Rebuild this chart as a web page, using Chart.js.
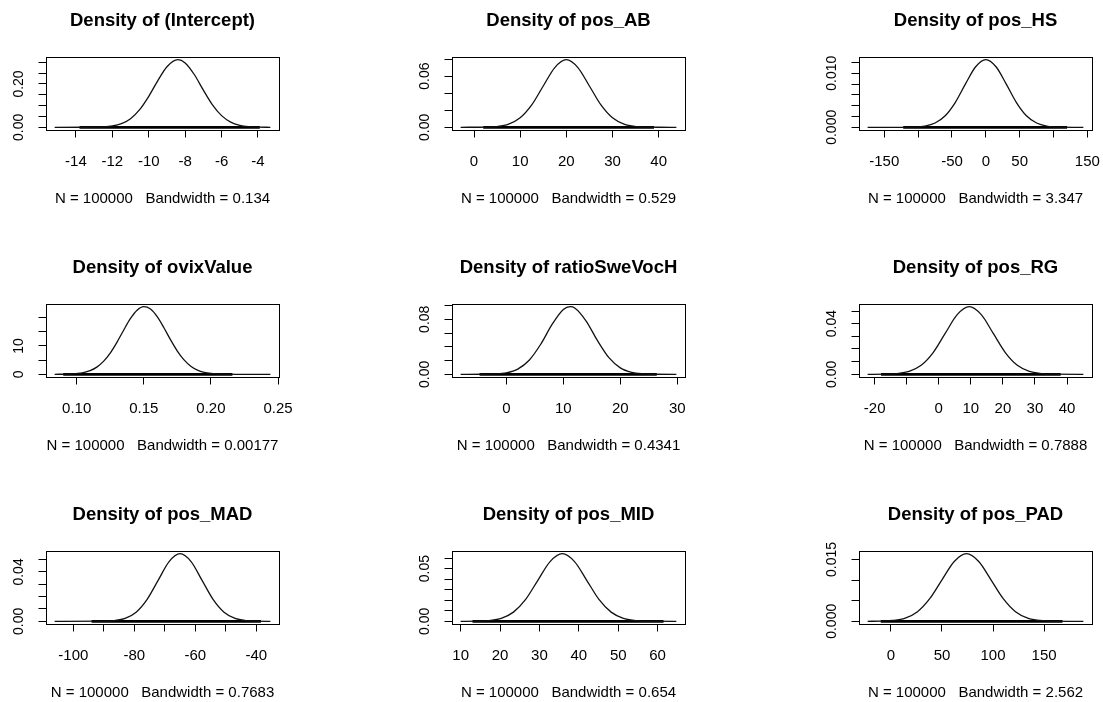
<!DOCTYPE html>
<html>
<head>
<meta charset="utf-8">
<script src="https://cdn.jsdelivr.net/npm/chart.js@4.4.1/dist/chart.umd.min.js"></script>
<style>
html, body { margin: 0; padding: 0; background: #fff; }
body { position: relative; width: 1103px; height: 702px; overflow: hidden; }
canvas { position: absolute; }
</style>
</head>
<body>
<script>
// posterior density panels (coda densplot style), 3 x 3
var panelNames = ['(Intercept)', 'pos_AB', 'pos_HS', 'ovixValue', 'ratioSweVocH', 'pos_RG', 'pos_MAD', 'pos_MID', 'pos_PAD'];
var bandwidths = ['0.134', '0.529', '3.347', '0.00177', '0.4341', '0.7888', '0.7683', '0.654', '2.562'];
var nSamples = 100000;

// density curves
var curveX = [
  [-15.17, -13.5, -12.5, -12, -11.5, -11, -10.5, -10, -9.5, -9, -8.4, -8, -7.5, -7, -6.5, -6, -5.5, -5, -4.5, -4, -3.32],
  [-2.9, 3, 5, 7.5, 10, 12.5, 15, 17.5, 20, 22.5, 25, 27.5, 30, 32.5, 35, 37.5, 40, 43.84],
  [-174.6, -130, -110, -90, -75, -60, -45, -30, -15, 0, 15, 30, 45, 60, 75, 90, 110, 144.1],
  [0.0836, 0.095, 0.105, 0.11, 0.115, 0.12, 0.125, 0.13, 0.135, 0.14, 0.145, 0.15, 0.155, 0.16, 0.165, 0.17, 0.175, 0.18, 0.185, 0.19, 0.195, 0.2, 0.21, 0.22, 0.2443],
  [-8.03, -4, -2, 0, 2, 4, 6, 8, 10, 11.2, 12, 14, 16, 18, 20, 22, 24, 26, 29.84],
  [-22.19, -16.75, -13, -9.25, -5.5, -1.75, 2, 5.75, 9.5, 13.25, 17, 20.75, 24.5, 28.25, 32, 35.75, 45.1],
  [-106.12, -90.2, -86.6, -83, -79.4, -75.8, -72.2, -68.6, -65, -61.4, -57.8, -54.2, -50.6, -47, -43.4, -39.8, -35.41],
  [9.99, 14.1, 17.2, 20.3, 23.4, 26.5, 29.6, 32.7, 35.8, 38.9, 42, 45.1, 48.2, 51.3, 54.4, 57.5, 64.76],
  [-22.85, -10, 2, 14, 26, 38, 50, 62, 74, 86, 98, 110, 122, 134, 146, 158, 188.5]
];
var curveY = [
  [0, 0.0001, 0.0019, 0.0060, 0.0167, 0.0397, 0.0813, 0.1429, 0.2157, 0.2796, 0.3120, 0.2971, 0.2437, 0.1715, 0.1037, 0.0538, 0.0240, 0.0092, 0.0030, 0.0008, 0],
  [0, 0.0003, 0.0009, 0.0037, 0.0111, 0.0262, 0.0484, 0.0700, 0.0792, 0.0700, 0.0484, 0.0262, 0.0111, 0.0037, 0.0009, 0.0002, 0.00003, 0],
  [0, 0.000003, 0.00003, 0.00023, 0.00079, 0.00213, 0.00462, 0.00804, 0.01119, 0.0125, 0.01119, 0.00804, 0.00462, 0.00213, 0.00079, 0.00023, 0.00003, 0],
  [0, 0.10, 0.60, 1.29, 2.53, 4.54, 7.48, 11.26, 15.52, 19.56, 22.55, 23.79, 22.96, 20.27, 16.37, 12.09, 8.18, 5.06, 2.86, 1.48, 0.70, 0.30, 0.04, 0.005, 0],
  [0, 0.0001, 0.0005, 0.0022, 0.0076, 0.0204, 0.0433, 0.0721, 0.0941, 0.0983, 0.0964, 0.0775, 0.0489, 0.0242, 0.0094, 0.0029, 0.0007, 0.0001, 0],
  [0, 0.0001, 0.0006, 0.0023, 0.0071, 0.0172, 0.0323, 0.0471, 0.0534, 0.0471, 0.0323, 0.0172, 0.0071, 0.0023, 0.0006, 0.0001, 0],
  [0, 0.0001, 0.0006, 0.0024, 0.0074, 0.0178, 0.0332, 0.0484, 0.0548, 0.0484, 0.0332, 0.0178, 0.0074, 0.0024, 0.0006, 0.0001, 0],
  [0, 0.0001, 0.0007, 0.0028, 0.0087, 0.0208, 0.0389, 0.0566, 0.0641, 0.0566, 0.0389, 0.0208, 0.0087, 0.0028, 0.0007, 0.0001, 0],
  [0, 0.00004, 0.0002, 0.00078, 0.00233, 0.00548, 0.01007, 0.01452, 0.0164, 0.01452, 0.01007, 0.00548, 0.00233, 0.00078, 0.0002, 0.00004, 0]
];

// where the observation rug is solid
var rugFrom = [-13.8, 2, -122, 0.09, -4.7, -18, -94, 13, -10];
var rugTo = [-3.9, 39, 120, 0.216, 26.4, 38, -38.5, 61.5, 168];

// axis ticks (R drops labels that would overlap)
var xTicks = [
  [-14, -12, -10, -8, -6, -4],
  [0, 10, 20, 30, 40],
  [-150, -100, -50, 0, 50, 100, 150],
  [0.10, 0.15, 0.20, 0.25],
  [0, 10, 20, 30],
  [-20, -10, 0, 10, 20, 30, 40],
  [-100, -90, -80, -70, -60, -50, -40],
  [10, 20, 30, 40, 50, 60],
  [0, 50, 100, 150]
];
var xTickLabels = [
  ['-14', '-12', '-10', '-8', '-6', '-4'],
  ['0', '10', '20', '30', '40'],
  ['-150', '', '-50', '0', '50', '', '150'],
  ['0.10', '0.15', '0.20', '0.25'],
  ['0', '10', '20', '30'],
  ['-20', '', '0', '10', '20', '30', '40'],
  ['-100', '', '-80', '', '-60', '', '-40'],
  ['10', '20', '30', '40', '50', '60'],
  ['0', '50', '100', '150']
];
var yTicks = [
  [0, 0.05, 0.10, 0.15, 0.20, 0.25, 0.30],
  [0, 0.02, 0.04, 0.06, 0.08],
  [0, 0.002, 0.004, 0.006, 0.008, 0.010, 0.012],
  [0, 5, 10, 15, 20],
  [0, 0.02, 0.04, 0.06, 0.08, 0.10],
  [0, 0.01, 0.02, 0.03, 0.04, 0.05],
  [0, 0.01, 0.02, 0.03, 0.04, 0.05],
  [0, 0.01, 0.02, 0.03, 0.04, 0.05, 0.06],
  [0, 0.005, 0.010, 0.015]
];
var yTickLabels = [
  ['0.00', '', '', '', '0.20', '', ''],
  ['0.00', '', '', '0.06', ''],
  ['0.000', '', '', '', '', '0.010', ''],
  ['0', '', '10', '', ''],
  ['0.00', '', '', '', '0.08', ''],
  ['0.00', '', '', '', '0.04', ''],
  ['0.00', '', '', '', '0.04', ''],
  ['0.00', '', '', '', '', '0.05', ''],
  ['0.000', '', '', '0.015']
];

// page layout
var FONT_FAMILY = '"Liberation Sans", Arial, Helvetica, sans-serif';
var boxLeft = [46, 452, 859];
var boxTop = [57, 304, 551];
var BOX_W = 233, BOX_H = 73;
var SIDE = 45, HEAD = 57, FOOT = 80;
var TICK_LEN = 7.5;
var Y_FONT = 14;

var measureCtx = document.createElement('canvas').getContext('2d');
function textWidth(txt, size) {
  measureCtx.font = size + 'px ' + FONT_FAMILY;
  return measureCtx.measureText(txt).width;
}

for (var i = 0; i < panelNames.length; i++) {
  drawPanel(i);
}

function drawPanel(i) {
  var col = i % 3, row = Math.floor(i / 3);
  var canvas = document.createElement('canvas');
  canvas.width = BOX_W + 2 * SIDE;
  canvas.height = HEAD + BOX_H + FOOT;
  canvas.style.left = (boxLeft[col] - SIDE) + 'px';
  canvas.style.top = (boxTop[row] - HEAD) + 'px';
  document.body.appendChild(canvas);

  var xs = curveX[i], ys = curveY[i];
  var xr = xs[xs.length - 1] - xs[0];
  var ymax = Math.max.apply(null, ys);
  var points = xs.map(function (x, k) { return { x: x, y: ys[k] }; });
  var rug = [{ x: rugFrom[i], y: 0 }, { x: rugTo[i], y: 0 }];

  // rotated y labels sit centred about 26px left of the box
  var widest = 0;
  yTickLabels[i].forEach(function (t) { widest = Math.max(widest, textWidth(t, Y_FONT)); });
  var yPad = Math.max(26.5 - TICK_LEN - widest / 2, 0);

  var xt = xTicks[i], xl = xTickLabels[i];
  var yt = yTicks[i], yl = yTickLabels[i];

  var tickGrid = { display: true, drawOnChartArea: false, drawTicks: true, tickLength: TICK_LEN, color: '#000', lineWidth: 1 };
  var frame = { display: true, color: '#000', width: 1 };
  var tickFont = { family: FONT_FAMILY, size: 15 };

  new Chart(canvas, {
    type: 'line',
    data: {
      datasets: [
        { data: points, borderColor: '#111', borderWidth: 1.3, pointRadius: 0, fill: false, cubicInterpolationMode: 'monotone' },
        { data: rug, borderColor: '#000', borderWidth: 2.8, pointRadius: 0, fill: false }
      ]
    },
    options: {
      responsive: false,
      animation: false,
      events: [],
      layout: { padding: 0 },
      plugins: {
        legend: { display: false },
        tooltip: { enabled: false },
        title: {
          display: true,
          text: 'Density of ' + panelNames[i],
          color: '#000',
          font: { family: FONT_FAMILY, size: 18.5, weight: 'bold' },
          padding: { top: 10, bottom: 24.8 }
        }
      },
      scales: {
        x: {
          type: 'linear',
          position: 'bottom',
          min: xs[0] - 0.04 * xr,
          max: xs[xs.length - 1] + 0.04 * xr,
          afterBuildTicks: function (s) { s.ticks = xt.map(function (v) { return { value: v }; }); },
          afterFit: function (s) { s.height = FOOT; },
          grid: tickGrid,
          border: frame,
          ticks: {
            autoSkip: false, minRotation: 0, maxRotation: 0, padding: 15, color: '#000', font: tickFont,
            callback: function (v, k) { return xl[k]; }
          },
          title: {
            display: true,
            text: 'N = ' + nSamples + '   Bandwidth = ' + bandwidths[i],
            color: '#000',
            font: tickFont,
            padding: { top: 0, bottom: 2.5 }
          }
        },
        y: {
          type: 'linear',
          position: 'left',
          min: -0.04 * ymax,
          max: 1.04 * ymax,
          afterBuildTicks: function (s) { s.ticks = yt.map(function (v) { return { value: v }; }); },
          afterFit: function (s) { s.width = SIDE; },
          grid: tickGrid,
          border: frame,
          ticks: {
            autoSkip: false, minRotation: 90, maxRotation: 90, crossAlign: 'center', padding: yPad,
            color: '#000', font: { family: FONT_FAMILY, size: Y_FONT },
            callback: function (v, k) { return yl[k]; }
          }
        },
        x2: {
          type: 'linear', position: 'top', min: 0, max: 1,
          afterFit: function (s) { s.height = 0; },
          grid: { display: false }, ticks: { display: false }, border: frame
        },
        y2: {
          type: 'linear', position: 'right', min: 0, max: 1,
          afterFit: function (s) { s.width = SIDE; },
          grid: { display: false }, ticks: { display: false }, border: frame
        }
      }
    }
  });
}
</script>
</body>
</html>
